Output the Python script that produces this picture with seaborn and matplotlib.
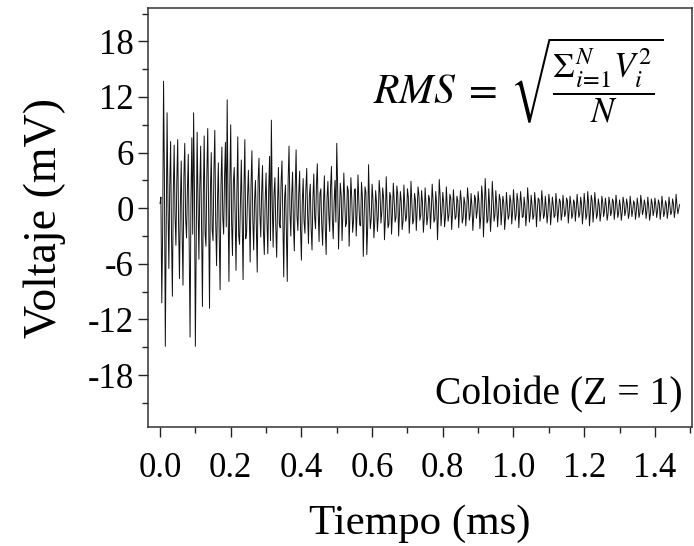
import numpy as np
import pandas as pd
import matplotlib
matplotlib.use("Agg")
import matplotlib.pyplot as plt
from matplotlib.ticker import MultipleLocator, FixedLocator
import seaborn as sns

# ---- data ----
dt_ms = 0.0025  # sampling step (ms)
# samples at even steps (0, 0.005, 0.010, ... ms)
voltaje_par = [
    # 0.000 - 0.095
    0.5, -10.2, 13.7, -14.9, 10.3, -6.5, 7.2, -9.5, 6.8, -4.0,
    7.4, -7.6, 5.1, -8.3, 7.0, -3.2, 5.8, -13.9, 7.6, 10.3,
    # 0.100 - 0.195
    -14.9, 8.2, -5.5, 6.7, -10.6, 7.8, -4.1, 8.6, -10.8, 6.0,
    -3.5, 8.4, -6.2, 4.9, -8.8, 6.6, -2.8, 7.1, 11.7, -7.9,
    # 0.200 - 0.295
    9.0, -5.1, 4.4, -6.7, 7.7, -3.9, 5.2, -7.7, 7.4, -2.6,
    4.1, -5.8, 6.2, -4.5, 3.0, -6.9, 5.4, -3.1, 4.6, -5.0,
    # 0.300 - 0.395
    3.8, -4.9, 5.6, 9.5, -4.2, 3.3, -5.3, 4.4, -2.1, 5.1,
    -7.4, 2.5, -7.9, 6.7, -3.0, 3.9, -4.6, 6.3, -2.4, 4.0,
    # 0.400 - 0.495
    -5.6, 3.2, -2.7, 4.3, -3.8, 2.6, -4.5, 3.7, -2.2, 4.8,
    -3.6, 2.1, -4.0, 3.5, -5.0, 2.9, -2.5, 4.5, -3.3, 3.0,
    # 0.500 - 0.595
    7.0, -4.4, 2.7, -3.5, 3.8, -2.0, 2.4, -4.1, 3.3, -2.6,
    2.0, -3.0, 3.6, -1.8, 2.8, -5.2, 2.3, -5.0, 4.7, -2.2,
    # 0.600 - 0.695
    2.6, -3.2, 1.9, -2.5, 3.0, -1.6, 2.2, -3.4, 3.4, -2.1,
    1.7, -2.8, 2.7, -1.5, 2.4, -3.0, 1.8, -2.3, 2.5, -1.4,
    # 0.700 - 0.795
    2.1, -2.7, 2.9, -1.7, 1.6, -2.4, 2.3, -1.3, 1.9, -2.6,
    2.2, -1.8, 1.4, -2.2, 2.6, -1.5, 1.8, -3.4, 3.1, -1.9,
    # 0.800 - 0.895
    1.7, -2.0, 2.3, -1.4, 1.5, -2.3, 2.0, -1.2, 1.3, -2.1,
    1.9, -1.6, 1.2, -1.9, 2.2, -1.3, 1.6, -2.4, 1.4, -1.1,
    # 0.900 - 0.995
    1.8, -2.2, 2.4, -3.1, 3.2, -1.6, 2.1, -2.5, 2.9, -1.4,
    1.9, -2.0, 1.5, -1.8, 1.3, -2.3, 1.7, -1.2, 1.4, -1.7,
    # 1.000 - 1.095
    2.0, -1.3, 1.6, -2.1, 1.8, -1.0, 1.2, -1.9, 2.2, -1.5,
    1.4, -1.2, 1.7, -2.0, 1.1, -1.4, 1.9, -1.1, 1.3, -1.6,
    # 1.100 - 1.195
    1.5, -1.8, 1.2, -1.0, 1.6, -1.5, 1.0, -1.3, 1.4, -0.9,
    1.1, -1.6, 1.3, -1.1, 0.9, -1.4, 1.5, -1.0, 1.2, -1.7,
    # 1.200 - 1.295
    1.6, -1.2, 1.8, -1.9, 1.4, -1.5, 1.7, -1.1, 1.0, -1.4,
    1.3, -0.9, 1.1, -1.3, 1.2, -0.8, 1.0, -1.2, 1.4, -1.0,
    # 1.300 - 1.395
    0.9, -1.3, 1.2, -0.8, 1.0, -1.1, 1.3, -0.9, 0.8, -1.2,
    1.1, -1.0, 1.4, -0.7, 0.9, -1.1, 1.2, -1.3, 1.0, -0.8,
    # 1.400 - 1.470
    1.1, -1.0, 0.9, -1.2, 1.3, -0.9, 0.8, -1.1, 1.2, -0.7,
    1.0, -1.0, 1.5, -0.6, 0.4,
]
# samples in between (0.0025, 0.0075, ... ms)
voltaje_impar = [
    1.2, -2.5, 3.1, -1.8, 0.6, 2.4, -3.0, 1.5, -0.8, 2.9,
    -1.7, 0.4, -2.6, 3.3, -1.1, 2.0, -4.2, 0.9, -2.8, 1.6,
    -3.4, 0.7, 2.2, -1.9, 1.3, -2.7, 3.6, -0.5, 1.8, -2.3,
    4.0, -1.4, 0.8, -3.1, 2.5, -0.9, 3.2, -2.0, 0.3, 2.7,
    -1.6, 2.8, -0.7, 1.9, -2.9, 0.5, -1.5, 2.3, -3.3, 1.1,
    -0.4, 2.6, -1.2, 0.9, -2.1, 3.0, -0.6, 1.7, -2.4, 0.8,
    -1.3, 2.1, -3.5, 0.6, 1.5, -2.0, 0.4, -1.7, 2.8, -0.9,
    1.2, -2.6, 3.1, -0.3, 1.4, -1.9, 2.2, -0.8, 1.6, -2.3,
    0.7, -1.4, 2.0, -0.6, 1.3, -2.2, 0.9, -1.0, 2.5, -0.4,
    1.6, -1.8, 0.5, -2.1, 1.1, -0.7, 2.3, -1.2, 0.6, -1.5,
    2.4, -0.9, 1.4, -0.3, 0.8, -1.6, 1.9, -0.6, 1.0, -1.3,
    2.1, -0.5, 0.7, -1.9, 1.2, -0.8, 1.7, -2.0, 0.4, -1.1,
    0.9, -1.5, 0.6, -0.8, 1.6, -0.4, 1.1, -1.2, 0.3, -1.7,
    1.3, -0.6, 0.8, -1.0, 1.5, -0.5, 0.7, -1.4, 0.2, -0.9,
    1.2, -0.7, 0.5, -1.3, 0.9, -0.2, 1.4, -0.8, 0.6, -1.1,
    0.4, -0.9, 1.0, -0.3, 0.8, -1.2, 0.5, -0.6, 1.3, -0.4,
    0.6, -1.0, 0.3, -0.7, 1.1, -0.5, 0.4, -0.9, 0.8, -0.2,
    0.7, -1.1, 0.5, -0.4, 0.9, -0.6, 0.2, -0.8, 1.0, -0.3,
    0.5, -0.9, 1.2, -0.4, 0.8, -1.3, 0.3, -0.6, 1.0, -0.7,
    0.4, -0.5, 0.9, -0.2, 0.6, -1.0, 0.3, -0.8, 0.7, -0.4,
    0.4, -0.7, 0.8, -0.3, 0.6, -0.9, 0.2, -0.5, 0.7, -0.6,
    0.3, -0.8, 0.5, -0.2, 0.9, -0.4, 0.6, -0.7, 0.1, -0.5,
    0.6, -0.4, 0.3, -0.8, 0.5, -0.2, 0.7, -0.6, 0.2, -0.5,
    0.8, -0.3, 0.4, -0.7, 0.6, -0.1, 0.3, -0.6, 0.5, -0.4,
    0.3, -0.7, 0.5, -0.4, 0.8, -0.2, 0.4, -0.6, 0.3, -0.5,
    0.6, -0.3, 0.2, -0.6, 0.5, -0.4, 0.7, -0.2, 0.4, -0.5,
    0.2, -0.5, 0.6, -0.3, 0.4, -0.6, 0.3, -0.2, 0.5, -0.4,
    0.3, -0.5, 0.6, -0.2, 0.4, -0.3, 0.2, -0.6, 0.5, -0.3,
    0.4, -0.3, 0.5, -0.2, 0.3, -0.5, 0.4, -0.3, 0.2, -0.4,
    0.5, -0.2, 0.3, -0.1,
]
x_ticks = [0.0, 0.2, 0.4, 0.6, 0.8, 1.0, 1.2, 1.4]
x_ticklabels = ["0.0", "0.2", "0.4", "0.6", "0.8", "1.0", "1.2", "1.4"]
y_ticks = [18, 12, 6, 0, -6, -12, -18]
y_ticklabels = ["18", "12", "6", "0", "-6", "-12", "-18"]

voltaje = np.empty(len(voltaje_par) + len(voltaje_impar))
voltaje[0::2] = voltaje_par
voltaje[1::2] = voltaje_impar
tiempo = np.arange(len(voltaje)) * dt_ms
df = pd.DataFrame({"Tiempo (ms)": tiempo, "Voltaje (mV)": voltaje})

# ---- style ----
sns.set_theme(style="ticks")
plt.rcParams["font.family"] = ["Liberation Serif", "DejaVu Serif"]
plt.rcParams["mathtext.fontset"] = "stix"

fig = plt.figure(figsize=(6.94, 5.46), dpi=100)
ax = fig.add_axes([148 / 694, 1 - 427 / 546, (692 - 148) / 694, (427 - 8) / 546])

sns.lineplot(data=df, x="Tiempo (ms)", y="Voltaje (mV)", ax=ax,
             color="#111111", linewidth=0.7, estimator=None, sort=False)

ax.set_xlim(-0.034, 1.505)
ax.set_ylim(-23.6, 21.6)

ax.xaxis.set_major_locator(FixedLocator(x_ticks))
ax.set_xticklabels(x_ticklabels)
ax.xaxis.set_minor_locator(MultipleLocator(0.1))
ax.yaxis.set_major_locator(FixedLocator(y_ticks))
ax.set_yticklabels(y_ticklabels)
ax.yaxis.set_minor_locator(MultipleLocator(3))

ax.tick_params(axis="both", which="major", direction="out", length=7, width=1.0,
               labelsize=25, colors="#222222", labelcolor="black")
ax.tick_params(axis="both", which="minor", direction="out", length=4, width=1.0,
               colors="#222222")
ax.tick_params(axis="x", which="major", pad=11)
ax.tick_params(axis="y", which="major", pad=3)

for s in ax.spines.values():
    s.set_visible(True)
    s.set_linewidth(1.1)
    s.set_color("#333333")

ax.set_xlabel("Tiempo (ms)", fontsize=31, labelpad=14, color="black")
ax.set_ylabel("Voltaje (mV)", fontsize=33, labelpad=16, color="black")

# RMS formula (two pieces for a closer fit)
ax.text(0.6415, 0.7733, r"$RMS\;=$",
        transform=ax.transAxes, ha="right", va="baseline", fontsize=30, color="black")
ax.text(0.666, 0.935, r"$\sqrt{\dfrac{\Sigma_{i\!=\!1}^{N}V_i^2}{N}}$",
        transform=ax.transAxes, ha="left", va="top", fontsize=25, color="black")
ax.text(0.983, 0.055, "Coloide (Z = 1)", transform=ax.transAxes,
        ha="right", va="baseline", fontsize=28.5, color="black")

fig.savefig("out.png", dpi=100)
